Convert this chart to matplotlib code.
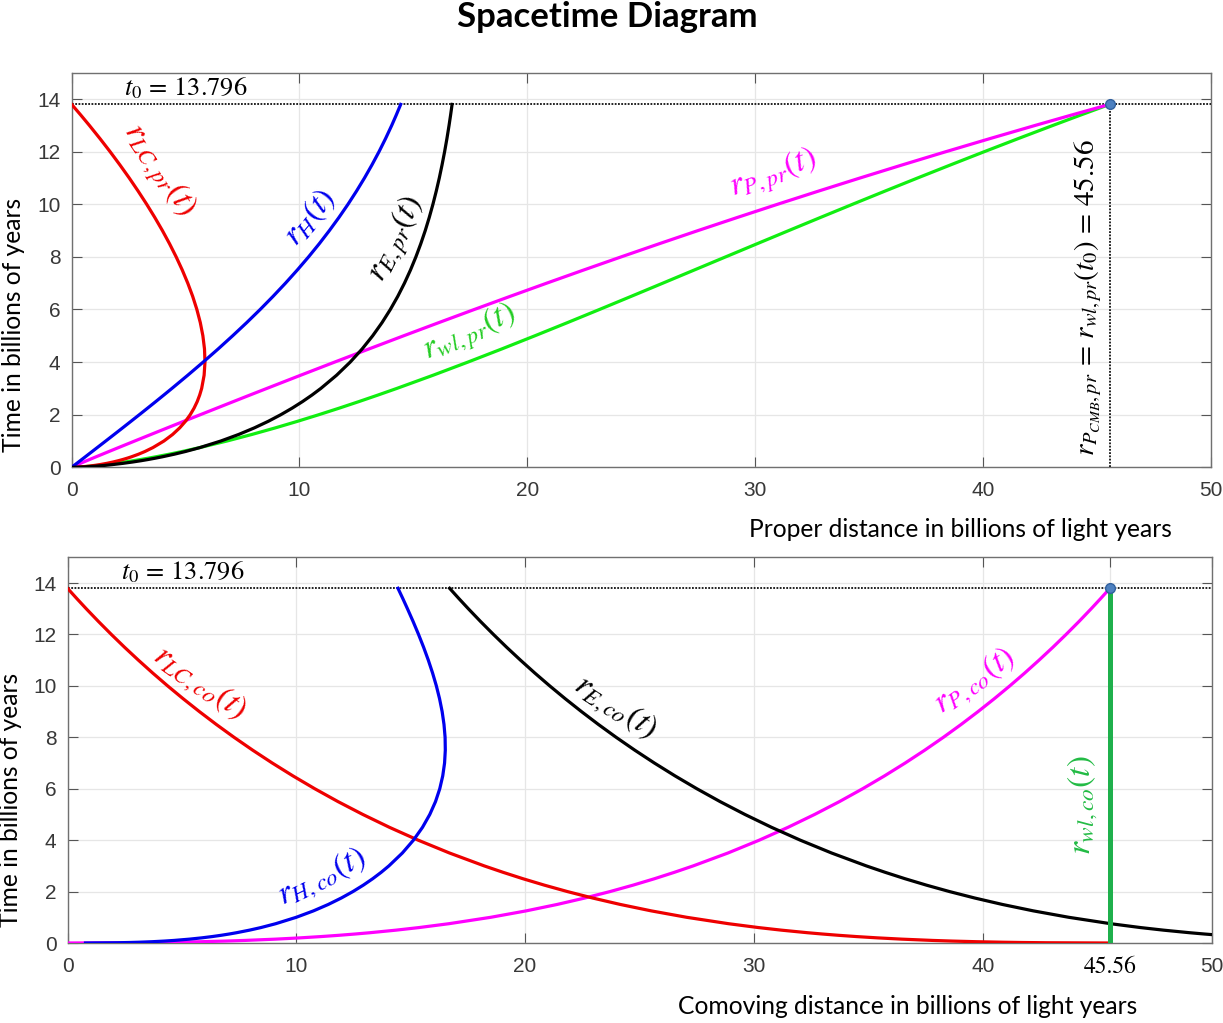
import matplotlib
matplotlib.use("Agg")
import matplotlib.pyplot as plt

plt.rcParams['mathtext.fontset'] = 'stix'

# Cosmic time in billions of years (shared by all curves)
t = [0, 0.01, 0.02, 0.03, 0.05, 0.075, 0.1, 0.15, 0.2, 0.25, 0.3, 0.35, 0.4,
     0.5, 0.6, 0.75, 1, 1.25, 1.5, 1.75, 2, 2.25, 2.5, 2.75, 3, 3.5, 4, 4.5,
     5, 5.5, 6, 6.5, 7, 7.5, 8, 8.5, 9, 9.5, 10, 10.5, 11, 11.5, 12, 12.5,
     13, 13.4, 13.796]
t0 = 13.796
r_cmb = 45.56

# Proper distances (billions of light years)
r_LC_pr = [0, 0.297, 0.459, 0.591, 0.806, 1.028, 1.218, 1.540, 1.810, 2.047,
           2.259, 2.450, 2.626, 2.940, 3.214, 3.568, 4.050, 4.433, 4.743,
           4.997, 5.204, 5.374, 5.512, 5.621, 5.707, 5.814, 5.852, 5.831,
           5.760, 5.647, 5.496, 5.312, 5.097, 4.855, 4.587, 4.296, 3.983,
           3.648, 3.293, 2.918, 2.526, 2.114, 1.686, 1.239, 0.775, 0.391, 0]
r_H_pr = [0, 0.015, 0.030, 0.045, 0.075, 0.1125, 0.150, 0.225, 0.300, 0.375,
          0.450, 0.525, 0.600, 0.749, 0.899, 1.123, 1.496, 1.868, 2.238,
          2.605, 2.971, 3.333, 3.693, 4.049, 4.402, 5.096, 5.773, 6.431,
          7.067, 7.683, 8.275, 8.842, 9.386, 9.905, 10.400, 10.869, 11.313,
          11.734, 12.131, 12.504, 12.855, 13.184, 13.493, 13.781, 14.051,
          14.253, 14.443]
r_E_pr = [0, 0.413, 0.643, 0.832, 1.145, 1.473, 1.756, 2.245, 2.664, 3.039,
          3.378, 3.690, 3.982, 4.513, 4.991, 5.630, 6.549, 7.334, 8.022,
          8.633, 9.182, 9.680, 10.136, 10.554, 10.940, 11.629, 12.228,
          12.752, 13.214, 13.624, 13.989, 14.316, 14.609, 14.873, 15.111,
          15.326, 15.522, 15.698, 15.859, 16.005, 16.139, 16.260, 16.372,
          16.474, 16.567, 16.636, 16.7]
r_P_pr = [0, 0.019, 0.043, 0.067, 0.118, 0.183, 0.250, 0.384, 0.520, 0.658,
          0.796, 0.934, 1.073, 1.353, 1.634, 2.058, 2.769, 3.484, 4.202,
          4.923, 5.647, 6.374, 7.103, 7.834, 8.571, 10.051, 11.544, 13.052,
          14.574, 16.116, 17.675, 19.252, 20.852, 22.475, 24.123, 25.796,
          27.497, 29.229, 30.989, 32.784, 34.613, 36.478, 38.381, 40.325,
          42.309, 43.928, 45.56]
r_wl_pr = [0, 0.316, 0.502, 0.658, 0.925, 1.212, 1.468, 1.924, 2.330, 2.705,
           3.054, 3.384, 3.699, 4.292, 4.848, 5.626, 6.818, 7.916, 8.945,
           9.919, 10.851, 11.748, 12.615, 13.456, 14.278, 15.865, 17.395,
           18.883, 20.335, 21.763, 23.171, 24.564, 25.950, 27.330, 28.710,
           30.092, 31.480, 32.876, 34.282, 35.703, 37.138, 38.593, 40.067,
           41.563, 43.084, 44.319, 45.56]

# Comoving distances (billions of light years)
r_LC_co = [45.56, 42.806, 41.682, 40.894, 39.737, 38.666, 37.814, 36.465,
           35.393, 34.483, 33.691, 32.984, 32.342, 31.200, 30.201, 28.895,
           27.060, 25.511, 24.157, 22.950, 21.851, 20.842, 19.906, 19.034,
           18.210, 16.696, 15.326, 14.068, 12.906, 11.821, 10.807, 9.852,
           8.949, 8.093, 7.279, 6.504, 5.764, 5.055, 4.376, 3.724, 3.099,
           2.496, 1.917, 1.358, 0.819, 0.402, 0]
r_H_co = [0.785, 2.162, 2.723, 3.117, 3.695, 4.231, 4.656, 5.330, 5.866,
          6.321, 6.716, 7.070, 7.387, 7.955, 8.451, 9.097, 9.998, 10.751,
          11.399, 11.967, 12.473, 12.928, 13.338, 13.710, 14.048, 14.635,
          15.119, 15.516, 15.834, 16.084, 16.270, 16.400, 16.480, 16.512,
          16.503, 16.455, 16.374, 16.261, 16.121, 15.956, 15.770, 15.565,
          15.343, 15.107, 14.858, 14.653, 14.443]
r_E_co = [62.26, 59.506, 58.382, 57.594, 56.437, 55.366, 54.514, 53.165,
          52.093, 51.183, 50.391, 49.684, 49.042, 47.900, 46.901, 45.595,
          43.760, 42.211, 40.857, 39.650, 38.551, 37.542, 36.606, 35.734,
          34.910, 33.396, 32.026, 30.768, 29.606, 28.521, 27.507, 26.552,
          25.649, 24.793, 23.979, 23.204, 22.464, 21.755, 21.076, 20.424,
          19.799, 19.196, 18.617, 18.058, 17.519, 17.102, 16.7]
r_P_co = [0, 2.754, 3.878, 4.666, 5.823, 6.894, 7.746, 9.095, 10.167, 11.077,
          11.869, 12.576, 13.218, 14.360, 15.359, 16.665, 18.500, 20.049,
          21.403, 22.611, 23.709, 24.718, 25.654, 26.526, 27.350, 28.864,
          30.234, 31.492, 32.654, 33.739, 34.753, 35.708, 36.611, 37.467,
          38.281, 39.056, 39.796, 40.505, 41.184, 41.836, 42.461, 43.064,
          43.643, 44.203, 44.741, 45.158, 45.56]
t_wl_co = [0, 13.796]
r_wl_co = [45.56, 45.56]

x_ticks_pr = [0, 10, 20, 30, 40, 50]
x_ticks_co = [0, 10, 20, 30, 40, 45.56, 50]
x_labels_co = ['0', '10', '20', '30', '40', '45.56', '50']
y_ticks = [0, 2, 4, 6, 8, 10, 12, 14]

RED, BLUE, MAG, GREEN, DGREEN = '#ee0000', '#0000ee', '#ff00ff', '#11ee11', '#1fb04c'
LW = 2.3
TICK_COLOR = '#383838'
SANS = 'Lato'

fig = plt.figure(figsize=(12.23, 10.23), dpi=100)
ax1 = fig.add_axes([0.0586, 0.5432, 0.9313, 0.3857])
ax2 = fig.add_axes([0.0552, 0.0782, 0.9354, 0.3770])


def style_axes(ax, xticks, xlabels=None):
    ax.set_xlim(0, 50)
    ax.set_ylim(0, 15)
    ax.set_xticks(xticks)
    if xlabels is not None:
        ax.set_xticklabels(xlabels)
    ax.set_yticks(y_ticks)
    ax.grid(True, color='#e6e6e6', lw=0.9)
    ax.set_axisbelow(True)
    for s in ax.spines.values():
        s.set_color('#707070')
        s.set_linewidth(1.0)
    ax.tick_params(which='both', direction='in', top=True, right=True,
                   length=7, width=0.8, color='#555555',
                   labelsize=15, labelcolor=TICK_COLOR)
    ax.tick_params(axis='y', pad=8)
    ax.tick_params(axis='x', pad=10)
    for lab in ax.get_xticklabels() + ax.get_yticklabels():
        lab.set_fontfamily('Liberation Sans')


style_axes(ax1, x_ticks_pr)
style_axes(ax2, x_ticks_co, x_labels_co)
lab = ax2.get_xticklabels()[5]
lab.set_fontfamily('STIXGeneral')
lab.set_color('black')
lab.set_fontsize(17)

LS = 24
DOT = dict(color='#111111', ls=(0, (1, 0.8)), lw=1.3, zorder=3)

# Proper-distance panel
ax1.axhline(t0, **DOT)
ax1.plot([r_cmb, r_cmb], [0, t0], **DOT)
ax1.plot(r_wl_pr, t, color=GREEN, lw=LW, zorder=4)
ax1.plot(r_P_pr, t, color=MAG, lw=LW, zorder=5)
ax1.plot(r_LC_pr, t, color=RED, lw=LW, zorder=6)
ax1.plot(r_H_pr, t, color=BLUE, lw=LW, zorder=7)
ax1.plot(r_E_pr, t, color='k', lw=LW, zorder=8)
ax1.plot([r_cmb], [t0], 'o', ms=7, mfc='#4d80c0', mec='#31609e', mew=1, zorder=9)

ax1.text(5.02, 14.39, r'$t_0\,=\,13.796$', fontsize=19, ha='center', va='center')
ax1.text(3.80, 11.30, r'$r_{LC,pr}(t)$', color=RED, fontsize=LS, rotation=-56,
         ha='center', va='center')
ax1.text(10.43, 9.50, r'$r_H(t)$', color=BLUE, fontsize=LS, rotation=50,
         ha='center', va='center')
ax1.text(14.24, 8.67, r'$r_{E,pr}(t)$', color='k', fontsize=LS, rotation=64,
         ha='center', va='center')
ax1.text(30.79, 11.15, r'$r_{P,pr}(t)$', color=MAG, fontsize=LS, rotation=20,
         ha='center', va='center')
ax1.text(17.45, 5.10, r'$r_{wl,pr}(t)$', color='#22cc22', fontsize=LS, rotation=24,
         ha='center', va='center')
ax1.text(44.62, 6.46, r'$r_{P_{CMB},pr}\,=\,r_{wl,pr}(t_0)\,=\,45.56$', color='k',
         fontsize=21, rotation=90, ha='center', va='center')

fig.text(0.785, 0.482, 'Proper distance in billions of light years',
         fontsize=17.7, family=SANS, ha='center', va='center')
fig.text(0.0114, 0.682, 'Time in billions of years', fontsize=17.7, family=SANS,
         rotation=90, ha='center', va='center')

# Comoving-distance panel
ax2.axhline(t0, **DOT)
ax2.plot(r_P_co, t, color=MAG, lw=LW, zorder=4)
ax2.plot(r_LC_co, t, color=RED, lw=LW, zorder=5)
ax2.plot(r_E_co, t, color='k', lw=LW, zorder=6)
ax2.plot(r_H_co, t, color=BLUE, lw=LW, zorder=7)
ax2.plot(r_wl_co, t_wl_co, color=DGREEN, lw=3.6, zorder=8)
ax2.plot([r_cmb], [t0], 'o', ms=7, mfc='#4d80c0', mec='#31609e', mew=1, zorder=9)

ax2.text(5.03, 14.40, r'$t_0\,=\,13.796$', fontsize=19, ha='center', va='center')
ax2.text(5.75, 10.10, r'$r_{LC,co}(t)$', color=RED, fontsize=LS, rotation=-35,
         ha='center', va='center')
ax2.text(11.12, 2.55, r'$r_{H,co}(t)$', color=BLUE, fontsize=LS, rotation=26,
         ha='center', va='center')
ax2.text(23.93, 9.17, r'$r_{E,co}(t)$', color='k', fontsize=LS, rotation=-33,
         ha='center', va='center')
ax2.text(39.67, 10.18, r'$r_{P,co}(t)$', color=MAG, fontsize=LS, rotation=35,
         ha='center', va='center')
ax2.text(44.35, 5.38, r'$r_{wl,co}(t)$', color='#22bb44', fontsize=LS, rotation=90,
         ha='center', va='center')

fig.text(0.7424, 0.0166, 'Comoving distance in billions of light years',
         fontsize=17.7, family=SANS, ha='center', va='center')
fig.text(0.0082, 0.218, 'Time in billions of years', fontsize=17.7, family=SANS,
         rotation=90, ha='center', va='center')

fig.text(0.4966, 0.983, 'Spacetime Diagram', fontsize=25, family=SANS,
         weight='bold', ha='center', va='center')

fig.savefig('out.png', dpi=100)
